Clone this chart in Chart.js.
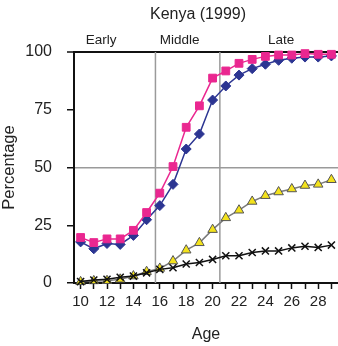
<!DOCTYPE html>
<html>
<head>
<meta charset="utf-8">
<script src="https://cdn.jsdelivr.net/npm/chart.js@4"></script>
<style>
  html, body { margin: 0; padding: 0; background: #fff; }
</style>
</head>
<body>
<canvas id="myChart" width="338" height="346"></canvas>
<script>
// datos
const edades = [10,11,12,13,14,15,16,17,18,19,20,21,22,23,24,25,26,27,28,29]
const rosa = [19.7,17.5,19.1,19.1,22.8,30.5,38.9,50.4,67.4,76.7,88.7,91.8,95.1,96.8,98.1,98.7,98.7,99.3,99.0,99.0]
const azul = [17.8,14.8,17.1,16.7,20.6,27.4,33.5,42.7,58.0,64.5,79.2,85.3,90.0,92.8,94.7,96.4,97.3,97.8,97.8,98.3]
const amarillo = [0.5,0.9,1.0,1.6,3.0,4.9,6.3,9.5,14.2,17.4,23.1,28.2,31.5,35.3,37.8,39.4,40.7,42.2,42.7,44.7]
const negro = [0.6,1.3,1.6,2.5,3.0,4.4,5.9,6.6,8.2,8.9,10.2,11.8,11.8,13.2,13.9,13.9,15.2,15.9,15.4,16.4]

const etapas = ['Early','Middle','Late']
const etapas_pos = [11.55,17.5,25.2]   // centro de cada texto (edad)
const cortes = [15.67,20.55]           // lineas verticales entre etapas
const ticks_y = [0,25,50,75,100]
const titulo = 'Kenya (1999)'

const fuente = '"Liberation Sans", Arial, Helvetica, sans-serif'

function puntos(valores){
    return edades.map((e,i)=>({x:e, y:valores[i]}))
}

// dibuja titulo, etapas y lineas verticales
const extras = {
    id:'extras',
    beforeDatasetsDraw(chart){
        const ctx = chart.ctx
        const xs = chart.scales.x
        const area = chart.chartArea
        ctx.save()
        ctx.strokeStyle = '#9a9a9a'
        ctx.lineWidth = 1.5
        cortes.forEach(c=>{
            const px = xs.getPixelForValue(c)
            ctx.beginPath()
            ctx.moveTo(px, area.top)
            ctx.lineTo(px, area.bottom)
            ctx.stroke()
        })
        ctx.restore()
    },
    afterDraw(chart){
        const ctx = chart.ctx
        const xs = chart.scales.x
        ctx.save()
        ctx.fillStyle = '#222'
        ctx.textAlign = 'center'
        ctx.textBaseline = 'alphabetic'
        ctx.font = '16px ' + fuente
        ctx.fillText(titulo, 198, 18.5)
        ctx.font = '13.5px ' + fuente
        etapas.forEach((t,i)=>{
            ctx.fillText(t, xs.getPixelForValue(etapas_pos[i]), 43.5)
        })
        ctx.restore()
    }
}

const ctx = document.getElementById('myChart')

const mychart = new Chart(ctx,{
    type:'line',
    data:{
        datasets:[
            {
                label:'rosa',
                data: puntos(rosa),
                borderColor:'#ea2790',
                backgroundColor:'#ea2790',
                borderWidth:1.5,
                pointStyle:'rect',
                pointRadius:5.5,
                pointBorderWidth:1
            },
            {
                label:'azul',
                data: puntos(azul),
                borderColor:'#2c3592',
                backgroundColor:'#2c3592',
                borderWidth:1.5,
                pointStyle:'rectRot',
                pointRadius:5,
                pointBorderWidth:1
            },
            {
                label:'negro',
                data: puntos(negro),
                borderColor:'#111',
                backgroundColor:'#111',
                borderWidth:1.5,
                pointStyle:'crossRot',
                pointRadius:5,
                pointBorderWidth:1.5
            },
            {
                label:'amarillo',
                data: puntos(amarillo),
                borderColor:'#7a7a7a',
                backgroundColor:'#f3e21c',
                pointBorderColor:'#555',
                borderWidth:1.5,
                pointStyle:'triangle',
                pointRadius:5.5,
                pointBorderWidth:1
            }
        ]
    },
    options:{
        responsive:false,
        animation:false,
        devicePixelRatio:1,
        clip:false,
        layout:{ autoPadding:false, padding:{ top:52, right:0, left:0, bottom:0 } },
        plugins:{
            legend:{ display:false },
            tooltip:{ enabled:false }
        },
        scales:{
            x:{
                type:'linear',
                min:9.5,
                max:29.5,
                afterFit(scale){
                    scale.height = 63
                    scale.paddingLeft = 0
                    scale.paddingRight = 0
                },
                afterBuildTicks(scale){
                    scale.ticks = edades.map(v=>({value:v}))
                },
                grid:{
                    drawOnChartArea:false,
                    tickLength:6,
                    tickColor:'#111',
                    tickWidth:1.5
                },
                border:{ color:'#111', width:2 },
                ticks:{
                    autoSkip:false,
                    maxRotation:0,
                    padding:4,
                    color:'#222',
                    font:{ family:fuente, size:15 },
                    callback:(v)=> v % 2 === 0 ? String(v) : ''
                },
                title:{
                    display:true,
                    text:'Age',
                    color:'#222',
                    font:{ family:fuente, size:16 },
                    padding:{ top:0, bottom:2 }
                }
            },
            y:{
                min:0,
                max:100,
                afterFit(scale){
                    scale.width = 74
                    scale.paddingTop = 0
                    scale.paddingBottom = 0
                },
                afterBuildTicks(scale){
                    scale.ticks = ticks_y.map(v=>({value:v}))
                },
                grid:{
                    color:(c)=> c.tick.value === 100 ? '#111' : (c.tick.value === 50 ? '#9a9a9a' : 'rgba(0,0,0,0)'),
                    lineWidth:(c)=> c.tick.value === 100 ? 2 : 1.5,
                    tickLength:7,
                    tickColor:'#111',
                    tickWidth:1.5
                },
                border:{ color:'#111', width:2 },
                ticks:{
                    padding:15,
                    color:'#222',
                    font:{ family:fuente, size:16 }
                },
                title:{
                    display:true,
                    text:'Percentage',
                    color:'#222',
                    font:{ family:fuente, size:16.5 },
                    padding:{ top:0, bottom:0 }
                }
            }
        }
    },
    plugins:[extras]
})
</script>
</body>
</html>
